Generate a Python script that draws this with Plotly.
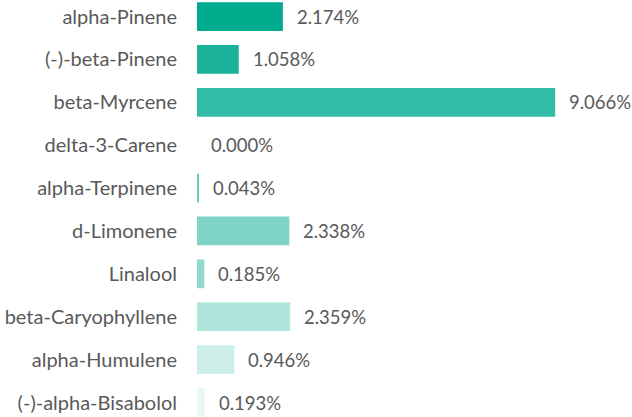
import plotly.graph_objects as go

categories = ["alpha-Pinene", "(-)-beta-Pinene", "beta-Myrcene", "delta-3-Carene",
              "alpha-Terpinene", "d-Limonene", "Linalool", "beta-Caryophyllene",
              "alpha-Humulene", "(-)-alpha-Bisabolol"]
values = [2.174, 1.058, 9.066, 0.000, 0.043, 2.338, 0.185, 2.359, 0.946, 0.193]
colors = ["#00AB8E", "#1AB399", "#33BCA5", "#4DC4B0", "#66CDBB",
          "#80D5C7", "#8FDACD", "#B0E5DC", "#CCEEE8", "#E6F7F4"]
value_labels = [f"{v:.3f}%" for v in values]

FONT = "Lato"
TXT = "#595959"

fig = go.Figure()
fig.add_trace(go.Bar(
    x=values, y=categories, orientation="h",
    marker=dict(color=colors, line=dict(width=0)),
    hoverinfo="skip",
))
for c, v, t in zip(categories, values, value_labels):
    fig.add_annotation(x=v, y=c, text=t, showarrow=False, xanchor="left",
                       xshift=12, font=dict(family=FONT, size=18.5, color=TXT))

fig.update_layout(
    width=632, height=417,
    margin=dict(l=197, r=0, t=0, b=0),
    paper_bgcolor="white", plot_bgcolor="white",
    bargap=0.33,
    showlegend=False,
    xaxis=dict(range=[0, 11.01], visible=False, fixedrange=True),
    yaxis=dict(range=[9.338, -0.385], showgrid=False, zeroline=False, showline=False,
               ticks="", ticklabelstandoff=19,
               tickfont=dict(family=FONT, size=20, color=TXT)),
)
fig.write_html("out.html")
